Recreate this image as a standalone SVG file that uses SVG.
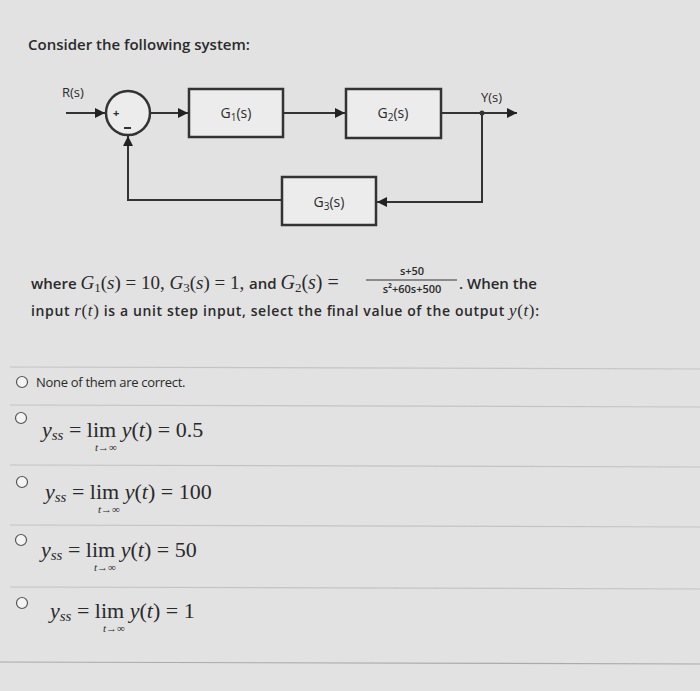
<svg xmlns="http://www.w3.org/2000/svg" width="700" height="691" viewBox="0 0 700 691">
<style>
.t{font-family:"Open Sans","Liberation Sans",sans-serif;fill:#2a2a2a}
.m{font-family:"Liberation Serif",serif;fill:#2a2a2a}
.b{fill:#ececec;stroke:#333;stroke-width:2.5}
.c{fill:none;stroke:#333;stroke-width:2}
.sep{stroke:#c4c4c4;stroke-width:1.2}
.r{fill:#f4f4f4;stroke:#555;stroke-width:1.2}
</style>
<defs><marker id="a" viewBox="0 0 10 10" refX="10" refY="5" markerWidth="5" markerHeight="5" orient="auto"><path d="M0,0L10,5L0,10z" fill="#222"/></marker></defs>
<rect width="700" height="691" fill="#e2e2e2"/>
<text class="t" x="28" y="50" font-size="15" font-weight="600">Consider the following system:</text>
<g id="connectors">
<path class="c" d="M66,113H105" marker-end="url(#a)"/>
<path class="c" d="M150,113H188" marker-end="url(#a)"/>
<path class="c" d="M283,113H345" marker-end="url(#a)"/>
<path class="c" d="M441,113H517" marker-end="url(#a)"/>
<path class="c" d="M482,113V202H377" marker-end="url(#a)"/>
<path class="c" d="M282,200H128V136" marker-end="url(#a)"/>
<circle cx="482" cy="113" r="2.5" fill="#333"/>
</g>
<g id="sum"><circle cx="128" cy="113" r="22" class="b"/>
<text class="t" x="113" y="117" font-size="11" font-weight="700">+</text>
<line x1="124" y1="128" x2="131" y2="128" stroke="#333" stroke-width="2"/></g>
<g id="G1"><rect class="b" x="189" y="89" width="94" height="48"/><text class="t" x="236" y="118" font-size="14" text-anchor="middle">G<tspan font-size="10" dy="3">1</tspan><tspan dy="-3">(s)</tspan></text></g>
<g id="G2"><rect class="b" x="346" y="89" width="95" height="49"/><text class="t" x="393" y="118" font-size="14" text-anchor="middle">G<tspan font-size="10" dy="3">2</tspan><tspan dy="-3">(s)</tspan></text></g>
<g id="G3"><rect class="b" x="282" y="177" width="94" height="48"/><text class="t" x="329" y="207" font-size="14" text-anchor="middle">G<tspan font-size="10" dy="3">3</tspan><tspan dy="-3">(s)</tspan></text></g>
<text class="t" x="62" y="97" font-size="13">R(s)</text>
<text class="t" x="481" y="102" font-size="13">Y(s)</text>
<text class="t" x="31" y="289" font-size="15" font-weight="600">where <tspan class="m" font-style="italic" font-weight="400" font-size="19">G</tspan><tspan class="m" font-weight="400" font-size="13" dy="3">1</tspan><tspan class="m" font-weight="400" font-size="19" dy="-3">(<tspan font-style="italic">s</tspan>) = 10, </tspan><tspan class="m" font-style="italic" font-weight="400" font-size="19">G</tspan><tspan class="m" font-weight="400" font-size="13" dy="3">3</tspan><tspan class="m" font-weight="400" font-size="19" dy="-3">(<tspan font-style="italic">s</tspan>) = 1, </tspan>and <tspan class="m" font-style="italic" font-weight="400" font-size="20">G</tspan><tspan class="m" font-weight="400" font-size="13" dy="3">2</tspan><tspan class="m" font-weight="400" font-size="20" dy="-3">(<tspan font-style="italic">s</tspan>) =</tspan></text>
<text class="t" x="412" y="275" font-size="11" font-weight="600" text-anchor="middle">s+50</text>
<line x1="366" y1="280" x2="457" y2="280" stroke="#333" stroke-width="1"/>
<text class="t" x="412" y="293" font-size="11" font-weight="600" text-anchor="middle">s²+60s+500</text>
<text class="t" x="459" y="289" font-size="15" font-weight="600">. When the</text>
<text class="t" x="31" y="316" font-size="14" font-weight="600" textLength="508">input <tspan class="m" font-style="italic" font-weight="400" font-size="17">r</tspan><tspan class="m" font-weight="400" font-size="17">(<tspan font-style="italic">t</tspan>)</tspan> is a unit step input, select the final value of the output <tspan class="m" font-style="italic" font-weight="400" font-size="17">y</tspan><tspan class="m" font-weight="400" font-size="17">(<tspan font-style="italic">t</tspan>)</tspan>:</text>
<g>
<line class="sep" x1="10" y1="367" x2="700" y2="369"/>
<line class="sep" x1="10" y1="405" x2="700" y2="407"/>
<line class="sep" x1="10" y1="465" x2="700" y2="467"/>
<line class="sep" x1="10" y1="525" x2="700" y2="527"/>
<line class="sep" x1="10" y1="587" x2="700" y2="589"/>
<line x1="0" y1="662" x2="700" y2="664" stroke="#aaa" stroke-width="1.2"/>
</g>
<circle class="r" cx="22" cy="382" r="5.5"/>
<text class="t" x="36" y="387" font-size="13" letter-spacing="-0.3">None of them are correct.</text>
<circle class="r" cx="21" cy="418" r="5.5"/>
<text class="m" x="42" y="437" font-size="22"><tspan font-style="italic">y</tspan><tspan font-style="italic" font-size="15" dy="3">ss</tspan><tspan dy="-3"> = lim </tspan><tspan font-style="italic">y</tspan>(<tspan font-style="italic">t</tspan>) = 0.5</text>
<text class="m" x="106" y="451" font-size="11" text-anchor="middle"><tspan font-style="italic">t</tspan>→∞</text>
<circle class="r" cx="22" cy="482" r="5.5"/>
<text class="m" x="45" y="499" font-size="22"><tspan font-style="italic">y</tspan><tspan font-style="italic" font-size="15" dy="3">ss</tspan><tspan dy="-3"> = lim </tspan><tspan font-style="italic">y</tspan>(<tspan font-style="italic">t</tspan>) = 100</text>
<text class="m" x="109" y="513" font-size="11" text-anchor="middle"><tspan font-style="italic">t</tspan>→∞</text>
<circle class="r" cx="21" cy="540" r="5.5"/>
<text class="m" x="41" y="557" font-size="22"><tspan font-style="italic">y</tspan><tspan font-style="italic" font-size="15" dy="3">ss</tspan><tspan dy="-3"> = lim </tspan><tspan font-style="italic">y</tspan>(<tspan font-style="italic">t</tspan>) = 50</text>
<text class="m" x="105" y="571" font-size="11" text-anchor="middle"><tspan font-style="italic">t</tspan>→∞</text>
<circle class="r" cx="22" cy="603" r="5.5"/>
<text class="m" x="50" y="618" font-size="22"><tspan font-style="italic">y</tspan><tspan font-style="italic" font-size="15" dy="3">ss</tspan><tspan dy="-3"> = lim </tspan><tspan font-style="italic">y</tspan>(<tspan font-style="italic">t</tspan>) = 1</text>
<text class="m" x="114" y="632" font-size="11" text-anchor="middle"><tspan font-style="italic">t</tspan>→∞</text>
</svg>
